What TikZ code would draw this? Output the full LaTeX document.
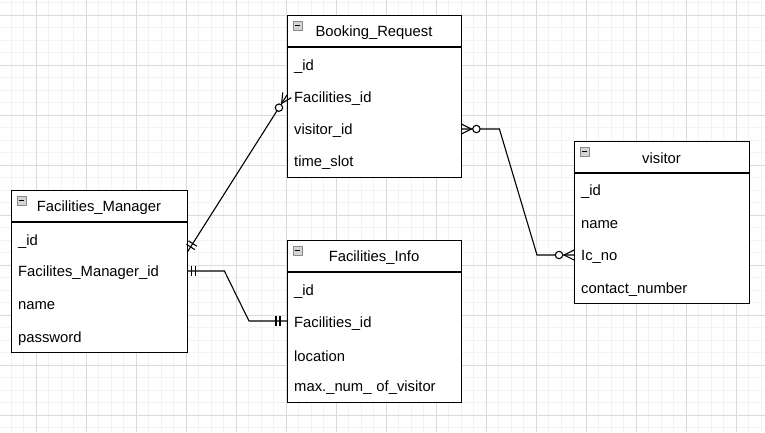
\documentclass[tikz,border=0pt]{standalone}
\usepackage{fontspec}
\setmainfont{Liberation Sans}
\usetikzlibrary{calc}
\definecolor{minorgrid}{HTML}{F3F3F3}
\definecolor{majorgrid}{HTML}{DADADA}
\definecolor{iconfill}{HTML}{D4D4D4}
\definecolor{iconline}{HTML}{8A8A8A}
\newcommand\erzeromany[2]{%
  \draw[conn] ($(#1)!10pt!(#2)$) -- ($(#1)!5pt!90:(#2)$)
              ($(#1)!10pt!(#2)$) -- ($(#1)!5pt!-90:(#2)$);
  \draw[conn,fill=white] ($(#1)!15pt!(#2)$) circle[radius=3.7pt];}
\newcommand\ermandbar[3]{%
  \coordinate (mbtmp) at ($(#1)!#3!(#2)$);
  \draw[conn] ($(mbtmp)!5pt!90:(#2)$) -- ($(mbtmp)!5pt!-90:(#2)$);}
\begin{document}
\begin{tikzpicture}[x=1pt,y=-1pt,
  ent/.style={draw=black, line width=1.2pt, fill=white, inner sep=0pt, anchor=north west},
  hline/.style={draw=black, line width=1.2pt},
  row/.style={anchor=west, inner xsep=7pt, inner ysep=0pt, minimum height=30pt,
              text width=#1, align=left, font=\fontsize{14.8}{17}\selectfont},
  ttl/.style={inner sep=0pt, font=\fontsize{14.8}{17}\selectfont},
  icon/.style={draw=iconline, fill=iconfill, line width=0.7pt, minimum size=9pt, inner sep=0pt},
  iconbar/.style={draw=black, line width=0.9pt},
  conn/.style={draw=black, line width=1.1pt},
  rowshift/.style={yshift=-2pt},
]
\useasboundingbox (0,0) rectangle (765,432);
\fill[white] (0,0) rectangle (765,432);
% grid
\foreach \x in {11,23.5,...,765} \draw[minorgrid, line width=0.8pt] (\x,0) -- (\x,432);
\foreach \y in {2.5,15,...,432} \draw[minorgrid, line width=0.8pt] (0,\y) -- (765,\y);
\foreach \x in {36,86,...,765} \draw[majorgrid, line width=0.8pt] (\x,0) -- (\x,432);
\foreach \y in {15,65,...,432} \draw[majorgrid, line width=0.8pt] (0,\y) -- (765,\y);

% Booking_Request
\node[ent, minimum width=174pt, minimum height=162pt] (br) at (287,15) {};
\draw[hline] ($(br.north west)+(0,32)$) -- ($(br.north east)+(0,32)$);
\node[icon] (br-i) at ($(br.north west)+(10.5,10.5)$) {};
\draw[iconbar] ($(br-i.west)+(2,0)$) -- ($(br-i.east)+(-2,0)$);
\node[ttl] (br-h) at (374,32.5) {Booking\_Request};
\node[row=160pt] (br-1) at (287,67) {\_id};
\node[row=160pt] (br-2) at (287,99) {Facilities\_id};
\node[row=160pt] (br-3) at (287,131) {visitor\_id};
\node[row=160pt] (br-4) at (287,163) {time\_slot};

% Facilities_Manager
\node[ent, minimum width=176pt, minimum height=162pt] (fm) at (11,190) {};
\draw[hline] ($(fm.north west)+(0,32)$) -- ($(fm.north east)+(0,32)$);
\node[icon] (fm-i) at ($(fm.north west)+(10.5,10.5)$) {};
\draw[iconbar] ($(fm-i.west)+(2,0)$) -- ($(fm-i.east)+(-2,0)$);
\node[ttl] (fm-h) at (99,208) {Facilities\_Manager};
\node[row=162pt] (fm-1) at (11,242) {\_id};
\node[row=162pt] (fm-2) at (11,273) {Facilites\_Manager\_id};
\node[row=162pt] (fm-3) at (11,306) {name};
\node[row=162pt] (fm-4) at (11,339) {password};

% Facilities_Info
\node[ent, minimum width=174pt, minimum height=162pt] (fi) at (287,240) {};
\draw[hline] ($(fi.north west)+(0,32)$) -- ($(fi.north east)+(0,32)$);
\node[icon] (fi-i) at ($(fi.north west)+(10.5,10.5)$) {};
\draw[iconbar] ($(fi-i.west)+(2,0)$) -- ($(fi-i.east)+(-2,0)$);
\node[ttl] (fi-h) at (374,258) {Facilities\_Info};
\node[row=160pt] (fi-1) at (287,292) {\_id};
\node[row=160pt] (fi-2) at (287,323.5) {Facilities\_id};
\node[row=160pt] (fi-3) at (287,356) {location};
\node[row=160pt] (fi-4) at (287,388) {max.\_num\_ of\_visitor};

% visitor
\node[ent, minimum width=175pt, minimum height=162pt] (v) at (574,141) {};
\draw[hline] ($(v.north west)+(0,32)$) -- ($(v.north east)+(0,32)$);
\node[icon] (v-i) at ($(v.north west)+(10.5,10.5)$) {};
\draw[iconbar] ($(v-i.west)+(2,0)$) -- ($(v-i.east)+(-2,0)$);
\node[ttl] (v-h) at (661.5,158.5) {visitor};
\node[row=161pt] (v-1) at (574,192) {\_id};
\node[row=161pt] (v-2) at (574,225) {name};
\node[row=161pt] (v-3) at (574,257) {Ic\_no};
\node[row=161pt] (v-4) at (574,290) {contact\_number};

% connector 1: Facilities_Manager -> Booking_Request.Facilities_id
\coordinate (c1s) at ($(fm-1.east)+(0,10)$);
\coordinate (c1e) at ($(br-2.west)+(0,-4)$);
\draw[conn] (c1s) -- (c1e);
\ermandbar{c1s}{c1e}{6pt}
\ermandbar{c1s}{c1e}{10pt}
\erzeromany{c1e}{c1s}

% connector 2: Booking_Request.visitor_id -> visitor.Ic_no
\coordinate (c2s) at ($(br-3.east)+(0,-2)$);
\coordinate (c2e) at ($(v-3.west)+(0,-2)$);
\coordinate (c2a) at ($(c2s)+(38,0)$);
\coordinate (c2b) at ($(c2e)+(-37,0)$);
\draw[conn] (c2s) -- (c2a) -- (c2b) -- (c2e);
\erzeromany{c2s}{c2a}
\erzeromany{c2e}{c2b}

% connector 3: Facilities_Manager.Facilites_Manager_id -> Facilities_Info.Facilities_id
\coordinate (c3s) at ($(fm-2.east)+(0,-2)$);
\coordinate (c3e) at ($(fi-2.west)+(0,-2.5)$);
\coordinate (c3a) at ($(c3s)+(37,0)$);
\coordinate (c3b) at ($(c3e)+(-38,0)$);
\draw[conn] (c3s) -- (c3a) -- (c3b) -- (c3e);
\ermandbar{c3s}{c3a}{4pt}
\ermandbar{c3s}{c3a}{8pt}
\ermandbar{c3e}{c3b}{7pt}
\ermandbar{c3e}{c3b}{11pt}
\end{tikzpicture}
\end{document}
